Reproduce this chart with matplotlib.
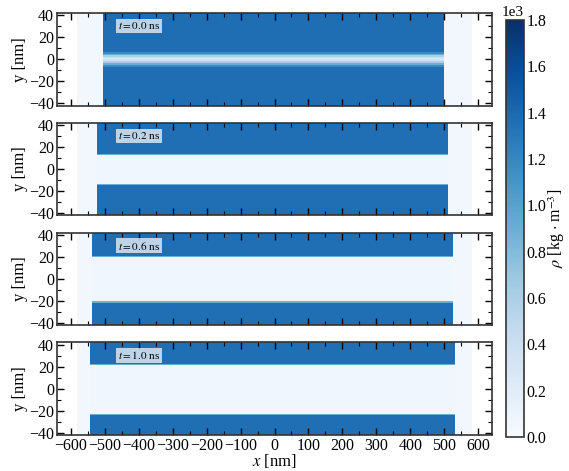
import numpy as np
import matplotlib
matplotlib.use("Agg")
import matplotlib.pyplot as plt
from matplotlib.ticker import MultipleLocator, ScalarFormatter

plt.rcParams["font.family"] = ["Liberation Serif", "DejaVu Serif"]
plt.rcParams["mathtext.fontset"] = "stix"

# Snapshot times [ns]
times = [0.0, 0.2, 0.6, 1.0]

# Simulation box extent in x [nm]
box_x = [-580, 580]

# Liquid slab extent in x per snapshot [nm]
slab_left = [-505, -521, -537, -543]
slab_right = [500, 511, 526, 532]

# Density layers across y per snapshot: layer edges [nm] and densities [kg/m^3]
layer_edges = [
    [-42, -7, -5, -3.5, -2, -0.7, 0.7, 2, 3.5, 5, 7, 42],
    [-42, -14.5, -13.5, 12.5, 13.5, 42],
    [-42, -21.5, -20.5, 20, 21, 42],
    [-42, -24, -23, 21.5, 22.5, 42],
]
layer_rho = [
    [1370, 1180, 900, 600, 380, 300, 380, 600, 900, 1180, 1370],
    [1360, 900, 70, 900, 1360],
    [1360, 900, 70, 900, 1360],
    [1360, 900, 70, 900, 1360],
]

# Vapour density surrounding the slab inside the box [kg/m^3]
rho_vapour = 55

rho_min, rho_max = 0, 1800

fig = plt.figure(figsize=(5.69, 4.71), dpi=100)
left, right = 57 / 569, 492 / 569
top_px, h_px, gap_px = 13, 92.5, 17.3
H = 471

axes = []
for i in range(4):
    y0 = top_px + i * (h_px + gap_px)
    ax = fig.add_axes([left, 1 - (y0 + h_px) / H, right - left, h_px / H])
    axes.append(ax)

cmap = plt.get_cmap("Blues")
for i, ax in enumerate(axes):
    x_edges = np.array([box_x[0], slab_left[i], slab_right[i], box_x[1]])
    y_edges = np.array(layer_edges[i])
    prof = np.array(layer_rho[i], dtype=float)
    C = np.empty((len(prof), 3))
    C[:, 0] = rho_vapour
    C[:, 1] = prof
    C[:, 2] = rho_vapour
    mesh = ax.pcolormesh(x_edges, y_edges, C, cmap=cmap, vmin=rho_min, vmax=rho_max,
                         shading="flat", rasterized=True)
    ax.set_xlim(-640, 640)
    ax.set_ylim(-42, 42)
    ax.xaxis.set_major_locator(MultipleLocator(100))
    ax.xaxis.set_minor_locator(MultipleLocator(50))
    ax.yaxis.set_major_locator(MultipleLocator(20))
    ax.yaxis.set_minor_locator(MultipleLocator(10))
    ax.tick_params(which="both", direction="in", top=True, right=True, labelsize=11.5, pad=2)
    ax.tick_params(which="major", length=5, width=1)
    ax.tick_params(which="minor", length=3, width=0.8)
    for s in ax.spines.values():
        s.set_linewidth(1.2)
        s.set_color("#333333")
    ax.set_ylabel("y [nm]", fontsize=12, labelpad=1)
    if i < 3:
        ax.tick_params(labelbottom=False)
    ax.text(0.14, 0.86, f"$t = {times[i]:.1f}$ ns", transform=ax.transAxes,
            fontsize=8, va="center", ha="left",
            bbox=dict(facecolor="white", alpha=0.7, edgecolor="none", pad=1.2))

axes[-1].set_xlabel("$x$ [nm]", fontsize=12, labelpad=-1)

cax = fig.add_axes([506 / 569, 1 - 437 / H, 18 / 569, (437 - 20) / H])
cb = fig.colorbar(mesh, cax=cax)
fmt = ScalarFormatter()
fmt.set_powerlimits((0, 0))
cb.formatter = fmt
cb.set_ticks(np.arange(0, 1801, 200))
cb.update_ticks()
cb.ax.tick_params(length=0, labelsize=11.5, pad=2)
cb.ax.yaxis.get_offset_text().set_fontsize(11)
cb.outline.set_linewidth(1.2)
cb.outline.set_edgecolor("#333333")
cb.set_label(r"$\rho$ [kg $\cdot$ m$^{-3}$]", fontsize=11.5, labelpad=0)

fig.savefig("out.png", dpi=100)
